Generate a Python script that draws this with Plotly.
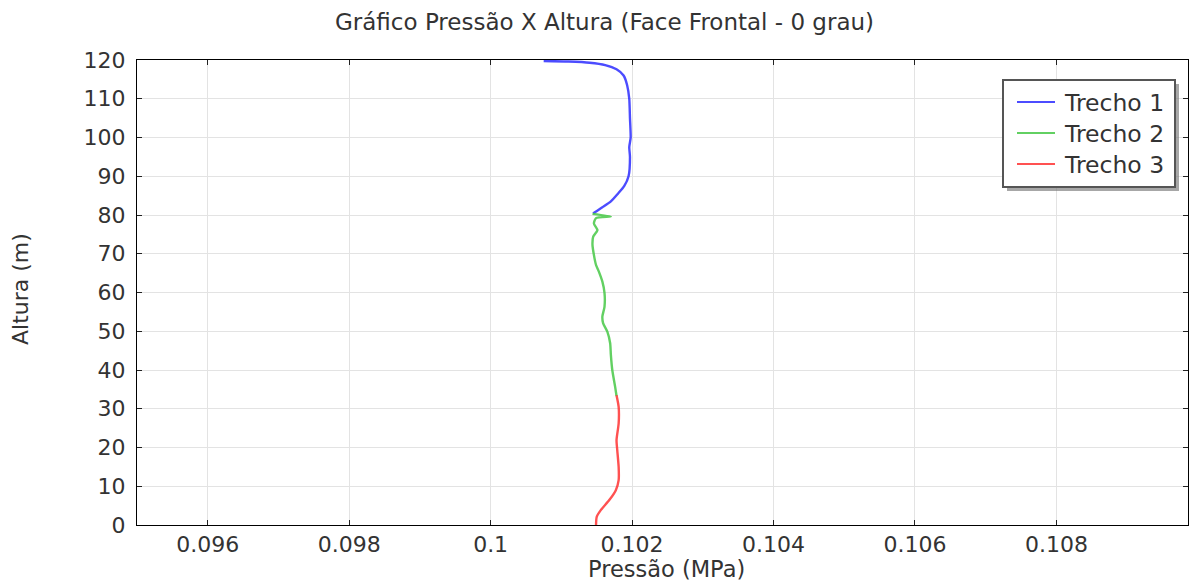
import plotly.graph_objects as go

# Pressure (MPa) vs height (m) along the frontal face, split in three stretches
trecho1_p = [0.10075, 0.10110, 0.10140, 0.10162, 0.10178, 0.10188, 0.10193, 0.10196,
             0.10197, 0.10198, 0.10196, 0.10197, 0.10195, 0.10189, 0.10180, 0.10170,
             0.10158, 0.10148, 0.10145]
trecho1_h = [119.75, 119.6, 119.3, 118.7, 117.6, 116.0, 113.5, 110.0,
             105.0, 100.0, 97.5, 95.0, 90.0, 87.5, 85.5, 83.5,
             82.0, 80.8, 80.4]

trecho2_p = [0.10144, 0.10170, 0.10149, 0.10146, 0.10151, 0.10145, 0.10144, 0.10146,
             0.10149, 0.10153, 0.10158, 0.10161, 0.10161, 0.10158, 0.10159, 0.10165,
             0.10169, 0.10170, 0.10172, 0.10176, 0.10178]
trecho2_h = [80.3, 79.6, 79.2, 77.8, 76.1, 74.4, 72.3, 69.7,
             67.1, 65.4, 62.8, 59.9, 56.3, 53.8, 52.1, 49.9,
             46.9, 43.9, 40.0, 35.7, 33.3]

trecho3_p = [0.10178, 0.10181, 0.10181, 0.10178, 0.10179, 0.10181, 0.10181, 0.10177,
             0.10168, 0.10156, 0.10150, 0.10149]
trecho3_h = [33.5, 30.5, 26.2, 21.9, 19.4, 15.0, 11.6, 9.0,
             6.5, 3.9, 2.1, 0.0]

x_ticks = [0.096, 0.098, 0.1, 0.102, 0.104, 0.106, 0.108]
x_tick_text = ["0.096", "0.098", "0.1", "0.102", "0.104", "0.106", "0.108"]
y_ticks = list(range(0, 121, 10))

FONT = "DejaVu Sans"
TXT = "#333333"
W, H = 1197, 583
ML, MR, MT, MB = 137, 9, 60, 58

series = [
    ("Trecho 1", trecho1_p, trecho1_h, "rgba(45,45,255,0.85)"),
    ("Trecho 2", trecho2_p, trecho2_h, "rgba(70,200,70,0.85)"),
    ("Trecho 3", trecho3_p, trecho3_h, "rgba(255,50,50,0.85)"),
]

fig = go.Figure()
for name, p, h, c in series:
    fig.add_trace(go.Scatter(x=p, y=h, mode="lines", name=name, showlegend=False,
                             line=dict(color=c, width=2.4, shape="spline", smoothing=0.6)))


def px_x(px):
    return (px - ML) / (W - ML - MR)


def px_y(py):
    return 1 - (py - MT) / (H - MT - MB)


# boxed legend with a drop shadow
LX0, LX1, LY0, LY1 = 1003, 1175, 80, 187
fig.add_shape(type="rect", xref="paper", yref="paper",
              x0=px_x(LX0 + 4), x1=px_x(LX1 + 4), y0=px_y(LY1 + 4), y1=px_y(LY0 + 4),
              fillcolor="rgba(120,120,120,0.65)", line=dict(width=0), layer="above")
fig.add_shape(type="rect", xref="paper", yref="paper",
              x0=px_x(LX0), x1=px_x(LX1), y0=px_y(LY1), y1=px_y(LY0),
              fillcolor="white", line=dict(color="#555555", width=2), layer="above")

annotations = []
for i, (name, _, _, c) in enumerate(series):
    yy = 102 + 31 * i
    fig.add_shape(type="line", xref="paper", yref="paper",
                  x0=px_x(1017), x1=px_x(1055), y0=px_y(yy), y1=px_y(yy),
                  line=dict(color=c, width=2), layer="above")
    annotations.append(dict(text=name, xref="paper", yref="paper",
                            x=px_x(1062), y=px_y(yy + 1), showarrow=False,
                            xanchor="left", yanchor="middle",
                            font=dict(family=FONT, size=23.5, color=TXT)))

annotations += [
    dict(text="Gráfico Pressão X Altura (Face Frontal - 0 grau)", xref="paper", yref="paper",
         x=px_x(604), y=px_y(22), showarrow=False, xanchor="center", yanchor="middle",
         font=dict(family=FONT, size=23, color=TXT)),
    dict(text="Pressão (MPa)", xref="paper", yref="paper",
         x=px_x(666), y=px_y(569), showarrow=False, xanchor="center", yanchor="middle",
         font=dict(family=FONT, size=22.5, color=TXT)),
    dict(text="Altura (m)", xref="paper", yref="paper", textangle=-90,
         x=px_x(20), y=px_y(289), showarrow=False, xanchor="center", yanchor="middle",
         font=dict(family=FONT, size=22, color=TXT)),
]

fig.update_layout(
    width=W, height=H,
    margin=dict(l=ML, r=MR, t=MT, b=MB),
    paper_bgcolor="white", plot_bgcolor="white",
    font=dict(family=FONT, color=TXT, size=20),
    showlegend=False,
    annotations=annotations,
)

fig.update_xaxes(range=[0.095, 0.10986], tickvals=x_ticks, ticktext=x_tick_text,
                 showgrid=True, gridcolor="#e3e3e3", gridwidth=1,
                 showline=True, linecolor="black", linewidth=1, mirror="ticks",
                 ticks="inside", ticklen=5, tickcolor="#222222",
                 tickfont=dict(family=FONT, size=22, color=TXT), zeroline=False)
fig.update_yaxes(range=[0, 120], tickvals=y_ticks,
                 showgrid=True, gridcolor="#e3e3e3", gridwidth=1,
                 showline=True, linecolor="black", linewidth=1, mirror="ticks",
                 ticks="inside", ticklen=5, tickcolor="#222222", ticklabelstandoff=6,
                 tickfont=dict(family=FONT, size=22, color=TXT), zeroline=False)

fig.write_html("out.html")
